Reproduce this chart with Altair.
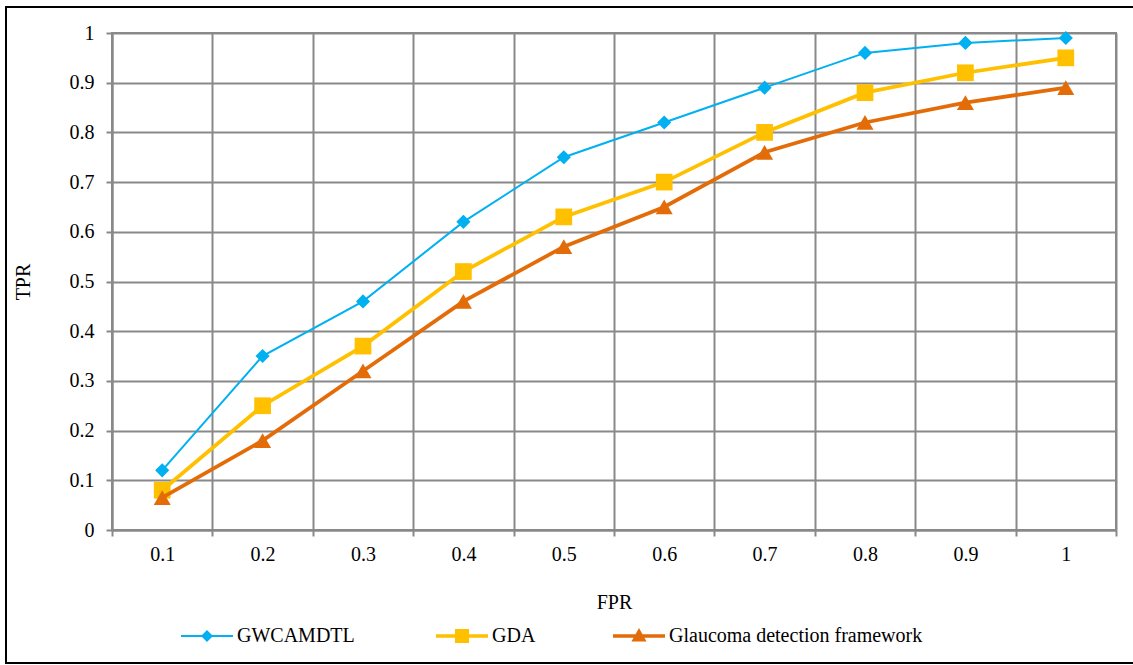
import altair as alt
import pandas as pd

fpr = ["0.1", "0.2", "0.3", "0.4", "0.5", "0.6", "0.7", "0.8", "0.9", "1"]
gwcamdtl = [0.12, 0.35, 0.46, 0.62, 0.75, 0.82, 0.89, 0.96, 0.98, 0.99]
gda = [0.08, 0.25, 0.37, 0.52, 0.63, 0.70, 0.80, 0.88, 0.92, 0.95]
glaucoma = [0.065, 0.18, 0.32, 0.46, 0.57, 0.65, 0.76, 0.82, 0.86, 0.89]

names = ["GWCAMDTL", "GDA", "Glaucoma detection framework"]
colors = ["#00B0F0", "#FFC000", "#E36C09"]
series_vals = [gwcamdtl, gda, glaucoma]

rows = []
for n, vals in zip(names, series_vals):
    for f, v in zip(fpr, vals):
        rows.append({"FPR": f, "TPR": v, "series": n})
df = pd.DataFrame(rows)

FONT = "Liberation Serif"
FS = 20
W, H = 1004, 497

xenc = alt.X("FPR:N", sort=fpr, title="FPR",
             scale=alt.Scale(paddingInner=0, paddingOuter=0),
             axis=alt.Axis(labelAngle=0, bandPosition=0, grid=True, ticks=True,
                           tickBand="extent", titlePadding=28, labelPadding=8,
                           labelFont=FONT, labelFontSize=FS, titleFont=FONT, titleFontSize=FS))
yenc = alt.Y("TPR:Q", title="TPR", scale=alt.Scale(domain=[0, 1], nice=False),
             axis=alt.Axis(values=[i / 10 for i in range(11)], format="~g",
                           titlePadding=36, labelPadding=12,
                           labelFont=FONT, labelFontSize=FS, titleFont=FONT, titleFontSize=FS))

base = alt.Chart(df)
layers = []
widths = [2, 3.75, 3.75]
shapes = ["diamond", "square", "triangle-up"]
sizes = [200, 280, 290]
for n, c, w, s, sz in zip(names, colors, widths, shapes, sizes):
    sub = base.transform_filter(alt.datum.series == n)
    layers.append(sub.mark_line(color=c, strokeWidth=w).encode(x=xenc, y=yenc))
    layers.append(sub.mark_point(color=c, filled=True, opacity=1, shape=s, size=sz).encode(x=xenc, y=yenc))

# legend symbols: a line with the marker in its middle
legend_paths = [
    "M-2,-0.08L2,-0.08L2,0.08L-2,0.08Z M0,-0.46L0.46,0L0,0.46L-0.46,0Z",
    "M-2,-0.14L2,-0.14L2,0.14L-2,0.14Z M-0.54,-0.54L0.54,-0.54L0.54,0.54L-0.54,0.54Z",
    "M-2,-0.14L2,-0.14L2,0.14L-2,0.14Z M0,-0.62L0.58,0.42L-0.58,0.42Z",
]
legend_x = [82, 337, 514]
for i, (n, c, p, lx) in enumerate(zip(names, colors, legend_paths, legend_x)):
    sub = base.transform_filter(alt.datum.series == n)
    layers.append(sub.mark_point(filled=True, opacity=0, color=c).encode(
        x=xenc, y=yenc,
        shape=alt.Shape("series:N", scale=alt.Scale(domain=[n], range=[p]),
                        legend=alt.Legend(title=None, orient="none", direction="horizontal",
                                          legendX=lx, legendY=590, symbolSize=676,
                                          symbolFillColor=c, symbolStrokeColor=c,
                                          symbolStrokeWidth=0, symbolOpacity=1,
                                          labelFont=FONT, labelFontSize=FS, labelColor="#000",
                                          labelOffset=17, padding=0, labelLimit=400)),
    ))

frame = alt.Chart(pd.DataFrame({"a": [0]})).mark_rect(
    fill=None, stroke="#000", strokeWidth=2, clip=False).encode(
    x=alt.value(-106), x2=alt.value(W + 30), y=alt.value(-26), y2=alt.value(H + 133))
layers.append(frame)

chart = alt.layer(*layers).resolve_scale(shape="independent").properties(
    width=W, height=H,
    autosize=alt.AutoSizeParams(type="none"),
    padding={"left": 112, "top": 33, "right": 17, "bottom": 135},
    background="white",
).configure_axis(
    gridColor="#898989", gridWidth=2, domainColor="#898989", domainWidth=2,
    tickColor="#898989", tickWidth=2, tickSize=6,
    labelColor="#000", titleColor="#000", titleFontWeight="normal",
).configure_view(stroke="#898989", strokeWidth=2)

chart.save("out.html", embed_options={"renderer": "svg", "actions": False})
